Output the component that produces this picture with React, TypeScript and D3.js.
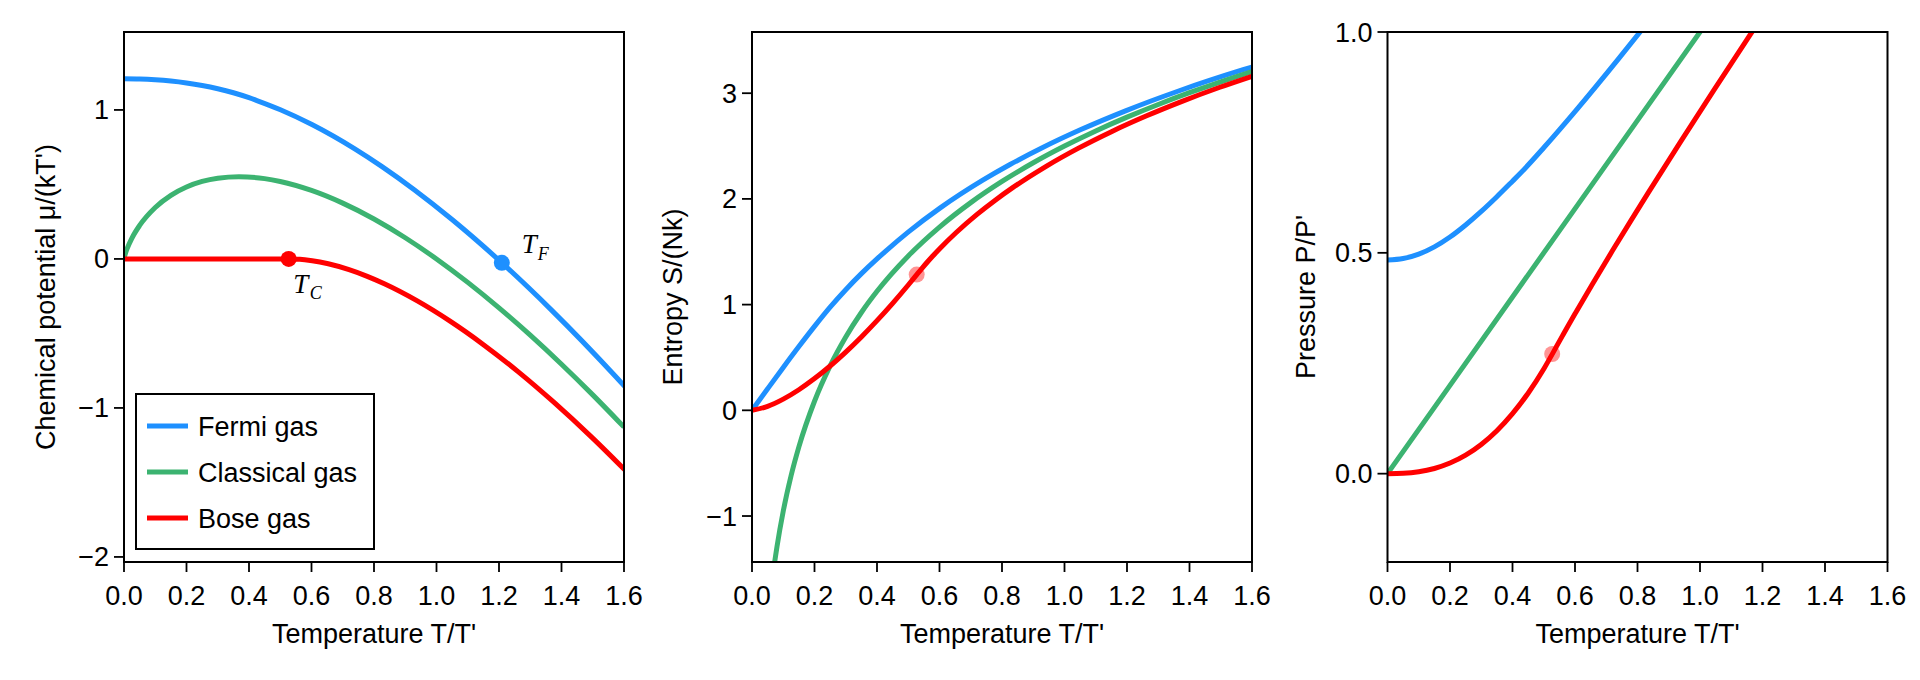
import React from 'react';
import * as d3 from 'd3';

// ---------- data ----------
const temperatureTicks = [0, 0.2, 0.4, 0.6, 0.8, 1.0, 1.2, 1.4, 1.6];
const muTicks = [-2, -1, 0, 1];
const entropyTicks = [-1, 0, 1, 2, 3];
const pressureTicks = [0, 0.5, 1.0];

const seriesNames = ['Fermi gas', 'Classical gas', 'Bose gas'];
const seriesColors = ['#1e90ff', '#3cb371', '#ff0000'];

// Fermi gas
const fermiT = [0, 0.05, 0.1, 0.15, 0.2, 0.25, 0.3, 0.35, 0.4, 0.4252, 0.5006, 0.6013, 0.7385, 0.8257, 0.9287, 1.0507, 1.1954, 1.3673, 1.5717, 1.6638];
const fermiMu = [1.209, 1.2073, 1.2021, 1.1934, 1.1807, 1.1638, 1.1422, 1.1153, 1.0822, 1.063, 1.0011, 0.9019, 0.7385, 0.6193, 0.4644, 0.2627, 0, -0.3418, -0.7858, -0.9983];
const fermiS = [0, 0.2037, 0.4054, 0.6028, 0.7937, 0.9756, 1.141, 1.2929, 1.4323, 1.4989, 1.6878, 1.9125, 2.1769, 2.325, 2.4839, 2.6535, 2.8334, 3.0233, 3.2222, 3.3042];
const fermiP = [0.4836, 0.487, 0.4971, 0.5135, 0.5358, 0.5631, 0.5938, 0.6271, 0.6622, 0.6801, 0.7384, 0.8208, 0.9385, 1.0156, 1.1085, 1.2202, 1.3548, 1.5168, 1.7113, 1.7997];

// Classical gas
const classicalT = [0, 0.002, 0.005, 0.01, 0.025, 0.05, 0.1, 0.15, 0.2, 0.25, 0.3, 0.3679, 0.45, 0.5, 0.6, 0.7, 0.8, 0.9, 1.0, 1.1, 1.2, 1.3, 1.4, 1.5, 1.6];
const classicalMu = [0, 0.0186, 0.0397, 0.0691, 0.1383, 0.2247, 0.3454, 0.4269, 0.4828, 0.5199, 0.5418, 0.5518, 0.539, 0.5199, 0.4597, 0.3745, 0.2678, 0.1422, 0, -0.1573, -0.3282, -0.5116, -0.7066, -0.9123, -1.128];
const classicalST = [0.06, 0.07, 0.08, 0.1, 0.125, 0.15, 0.2, 0.25, 0.3, 0.35, 0.4, 0.5, 0.6, 0.7, 0.8, 0.9, 1.0, 1.1, 1.2, 1.3, 1.4, 1.5, 1.6];
const classicalS = [-1.7201, -1.4889, -1.2886, -0.9539, -0.6192, -0.3457, 0.0858, 0.4206, 0.694, 0.9253, 1.1256, 1.4603, 1.7338, 1.965, 2.1653, 2.342, 2.5, 2.643, 2.7735, 2.8935, 3.0047, 3.1082, 3.205];
const classicalPT = [0, 0.4, 0.8, 1.2, 1.6];
const classicalP = [0, 0.4, 0.8, 1.2, 1.6];

// Bose gas
const boseT = [0, 0.05, 0.1, 0.15, 0.2, 0.25, 0.3, 0.35, 0.4, 0.45, 0.5, 0.5272, 0.5426, 0.5627, 0.5785, 0.6021, 0.6536, 0.7201, 0.7784, 0.8331, 0.9386, 1.0434, 1.1503, 1.2609, 1.3762, 1.4972, 1.6246];
const boseMu = [0, 0, 0, 0, 0, 0, 0, 0, 0, 0, 0, 0, -0.0005, -0.0028, -0.0058, -0.012, -0.0327, -0.072, -0.1168, -0.1666, -0.2816, -0.4174, -0.5752, -0.7565, -0.9634, -1.1978, -1.4621];
const boseS = [0, 0.0375, 0.1061, 0.1948, 0.3, 0.4192, 0.5511, 0.6944, 0.8484, 1.0124, 1.1857, 1.2838, 1.339, 1.4078, 1.4596, 1.5334, 1.6821, 1.8534, 1.988, 2.1039, 2.3036, 2.4778, 2.6362, 2.7836, 2.9229, 3.0562, 3.1843];
const boseP = [0, 0.0008, 0.0042, 0.0117, 0.024, 0.0419, 0.0661, 0.0972, 0.1358, 0.1822, 0.2371, 0.2707, 0.2904, 0.3157, 0.3355, 0.3645, 0.4267, 0.5051, 0.5723, 0.6345, 0.7523, 0.8672, 0.9829, 1.1013, 1.2236, 1.3512, 1.4844];

// special points
const fermiTempTF = 1.209;
const fermiMuAtTF = -0.026;
const boseTempTC = 0.527;
const boseMuAtTC = 0;
const boseSAtTC = 1.284;
const bosePAtTC = 0.271;

// ---------- layout ----------
const W = 1920;
const H = 680;
const TOP = 32;
const BOTTOM = 562;
const PW = 500;
const SANS = "'Liberation Sans', Arial, Helvetica, sans-serif";
const SERIF = "'Liberation Serif', 'DejaVu Serif', serif";
const FS = 27;
const LW = 5;

const fmtInt = (v: number) => (v < 0 ? '\u2212' + Math.abs(v) : String(v));
const fmt1 = (v: number) => (v < 0 ? '\u2212' + Math.abs(v).toFixed(1) : v.toFixed(1));

type Series = { t: number[]; v: number[]; color: string };
type Marker = { t: number; v: number; color: string; opacity: number };

const panels = [
  {
    x0: 124,
    yDomain: [-2.034, 1.523],
    yTicks: muTicks,
    yFmt: fmtInt,
    ylabel: "Chemical potential \u03bc/(kT')",
    ylabelX: 55,
    series: [
      { t: fermiT, v: fermiMu, color: seriesColors[0] },
      { t: classicalT, v: classicalMu, color: seriesColors[1] },
      { t: boseT, v: boseMu, color: seriesColors[2] },
    ] as Series[],
    markers: [
      { t: fermiTempTF, v: fermiMuAtTF, color: seriesColors[0], opacity: 1 },
      { t: boseTempTC, v: boseMuAtTC, color: seriesColors[2], opacity: 1 },
    ] as Marker[],
    legend: true,
  },
  {
    x0: 752,
    yDomain: [-1.435, 3.579],
    yTicks: entropyTicks,
    yFmt: fmtInt,
    ylabel: 'Entropy S/(Nk)',
    ylabelX: 682,
    series: [
      { t: fermiT, v: fermiS, color: seriesColors[0] },
      { t: classicalST, v: classicalS, color: seriesColors[1] },
      { t: boseT, v: boseS, color: seriesColors[2] },
    ] as Series[],
    markers: [{ t: boseTempTC, v: boseSAtTC, color: seriesColors[2], opacity: 0.42 }] as Marker[],
    legend: false,
  },
  {
    x0: 1387.5,
    yDomain: [-0.2, 1.0],
    yTicks: pressureTicks,
    yFmt: fmt1,
    ylabel: "Pressure P/P'",
    ylabelX: 1315,
    series: [
      { t: fermiT, v: fermiP, color: seriesColors[0] },
      { t: classicalPT, v: classicalP, color: seriesColors[1] },
      { t: boseT, v: boseP, color: seriesColors[2] },
    ] as Series[],
    markers: [{ t: boseTempTC, v: bosePAtTC, color: seriesColors[2], opacity: 0.42 }] as Marker[],
    legend: false,
  },
];

function Panel({ p, idx }: { p: (typeof panels)[number]; idx: number }) {
  const xs = d3.scaleLinear().domain([0, 1.6]).range([p.x0, p.x0 + PW]);
  const ys = d3.scaleLinear().domain(p.yDomain).range([BOTTOM, TOP]);
  const clipId = `clip-${idx}`;
  const midY = (TOP + BOTTOM) / 2;

  return (
    <g>
      <defs>
        <clipPath id={clipId}>
          <rect x={p.x0} y={TOP} width={PW} height={BOTTOM - TOP} />
        </clipPath>
      </defs>
      <g clipPath={`url(#${clipId})`}>
        {p.series.map((s, i) => {
          const line = d3
            .line<number>()
            .x((_, k) => xs(s.t[k]))
            .y((d) => ys(d))
            .curve(d3.curveMonotoneX);
          return <path key={i} d={line(s.v) || ''} fill="none" stroke={s.color} strokeWidth={LW} strokeLinejoin="round" />;
        })}
        {p.markers.map((m, i) => (
          <circle key={i} cx={xs(m.t)} cy={ys(m.v)} r={8} fill={m.color} fillOpacity={m.opacity} />
        ))}
      </g>
      {/* frame */}
      <rect x={p.x0} y={TOP} width={PW} height={BOTTOM - TOP} fill="none" stroke="#000" strokeWidth={2} />
      {/* x ticks */}
      {temperatureTicks.map((t) => (
        <g key={'x' + t}>
          <line x1={xs(t)} x2={xs(t)} y1={BOTTOM} y2={BOTTOM + 10} stroke="#000" strokeWidth={1.8} />
          <text x={xs(t)} y={605} textAnchor="middle" fontFamily={SANS} fontSize={FS} fill="#000">
            {t.toFixed(1)}
          </text>
        </g>
      ))}
      {/* y ticks */}
      {p.yTicks.map((v) => (
        <g key={'y' + v}>
          <line x1={p.x0 - 10} x2={p.x0} y1={ys(v)} y2={ys(v)} stroke="#000" strokeWidth={1.8} />
          <text x={p.x0 - 15} y={ys(v) + 9.5} textAnchor="end" fontFamily={SANS} fontSize={FS} fill="#000">
            {p.yFmt(v)}
          </text>
        </g>
      ))}
      <text x={p.x0 + PW / 2} y={643} textAnchor="middle" fontFamily={SANS} fontSize={FS} fill="#000">
        Temperature T/T'
      </text>
      <text
        transform={`translate(${p.ylabelX},${midY}) rotate(-90)`}
        textAnchor="middle"
        fontFamily={SANS}
        fontSize={FS}
        fill="#000"
      >
        {p.ylabel}
      </text>
      {idx === 0 && (
        <g>
          <text x={xs(fermiTempTF) + 20} y={ys(fermiMuAtTF) - 9.5} fontFamily={SERIF} fontStyle="italic" fontSize={27} fill="#000">
            T
            <tspan dx={1} dy={6.5} fontSize={18}>
              F
            </tspan>
          </text>
          <text x={xs(boseTempTC) + 4.5} y={ys(boseMuAtTC) + 34.5} fontFamily={SERIF} fontStyle="italic" fontSize={27} fill="#000">
            T
            <tspan dx={1.5} dy={6} fontSize={18}>
              C
            </tspan>
          </text>
        </g>
      )}
      {p.legend && (
        <g>
          <rect x={136} y={394} width={238} height={155} fill="#fff" stroke="#000" strokeWidth={2} />
          {seriesNames.map((name, i) => {
            const ly = 426 + i * 46;
            return (
              <g key={name}>
                <line x1={147} x2={188} y1={ly} y2={ly} stroke={seriesColors[i]} strokeWidth={LW} />
                <text x={198} y={ly + 9.7} fontFamily={SANS} fontSize={FS} fill="#000">
                  {name}
                </text>
              </g>
            );
          })}
        </g>
      )}
    </g>
  );
}

export default function App() {
  return (
    <svg
      width={W}
      height={H}
      viewBox={`0 0 ${W} ${H}`}
      style={{ position: 'absolute', left: 0, top: 0, background: '#fff' }}
    >
      <rect x={0} y={0} width={W} height={H} fill="#fff" />
      {panels.map((p, i) => (
        <Panel key={i} p={p} idx={i} />
      ))}
    </svg>
  );
}
